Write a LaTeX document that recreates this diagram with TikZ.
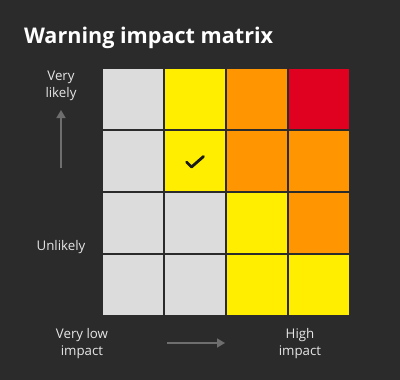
\documentclass[tikz,border=0pt]{standalone}
\usepackage{fontspec}
\setmainfont{Open Sans}
\usetikzlibrary{arrows.meta,positioning}
\definecolor{backdrop}{HTML}{2B2B2B}
\definecolor{lowgrey}{HTML}{DCDCDC}
\definecolor{warnyellow}{HTML}{FFEE00}
\definecolor{warnorange}{HTML}{FF9500}
\definecolor{warnred}{HTML}{E0001F}
\definecolor{axisgrey}{HTML}{6E6E6E}
\definecolor{labeltext}{HTML}{E6E6E6}

\begin{document}
\begin{tikzpicture}[x=1pt,y=-1pt,
		cell/.style={minimum size=60pt, inner sep=0pt, draw=none},
		axislabel/.style={text=labeltext, align=center, font=\fontsize{13.3}{17}\selectfont},
		axisarrow/.style={draw=axisgrey, line width=1.6pt, -{Triangle[length=8pt,width=9pt]}}]
		%%%%% START %%%%%
		
		\fill[backdrop] (0, 0) rectangle (400, 380);
		\useasboundingbox (0, 0) rectangle (400, 380);
		
		\node[anchor=base west, text=white, font=\fontsize{21.6}{26}\bfseries\selectfont] (title) at (20.5, 43.5) {Warning impact matrix};
		
		% row 1 (very likely)
		\node[cell, fill=lowgrey] (c-1-1) at (133, 99) {};
		\node[cell, fill=warnyellow] (c-1-2) at (195, 99) {};
		\node[cell, fill=warnorange] (c-1-3) at (257, 99) {};
		\node[cell, fill=warnred] (c-1-4) at (319, 99) {};
		
		% row 2
		\node[cell, fill=lowgrey] (c-2-1) at (133, 161) {};
		\node[cell, fill=warnyellow] (c-2-2) at (195, 161) {};
		\node[cell, fill=warnorange] (c-2-3) at (257, 161) {};
		\node[cell, fill=warnorange] (c-2-4) at (319, 161) {};
		
		% row 3
		\node[cell, fill=lowgrey] (c-3-1) at (133, 223) {};
		\node[cell, fill=lowgrey] (c-3-2) at (195, 223) {};
		\node[cell, fill=warnyellow] (c-3-3) at (257, 223) {};
		\node[cell, fill=warnorange] (c-3-4) at (319, 223) {};
		
		% row 4 (unlikely)
		\node[cell, fill=lowgrey] (c-4-1) at (133, 285) {};
		\node[cell, fill=lowgrey] (c-4-2) at (195, 285) {};
		\node[cell, fill=warnyellow] (c-4-3) at (257, 285) {};
		\node[cell, fill=warnyellow] (c-4-4) at (319, 285) {};
		
		% tick
		\draw[line width=2.8pt, color=black!90, line cap=round, line join=round] (186.5, 162) -- (191.5, 167) -- (203.5, 156.5);
		
		% likelihood axis
		\node[axislabel] (verylikely) at (61, 86) {Very\\likely};
		\node[axislabel] (unlikely) at (61, 247) {Unlikely};
		\coordinate (upfoot) at (61, 168);
		\coordinate (uptip) at (61, 110);
		\draw[axisarrow] (upfoot) -- (uptip);
		
		% impact axis
		\node[axislabel] (lowimpact) at (82, 344) {Very low\\impact};
		\node[axislabel] (highimpact) at (300, 344) {High\\impact};
		\coordinate (rightfoot) at (167, 343);
		\coordinate (righttip) at (225, 343);
		\draw[axisarrow] (rightfoot) -- (righttip);
		
		%%%%% END %%%%%
	\end{tikzpicture}
\end{document}
